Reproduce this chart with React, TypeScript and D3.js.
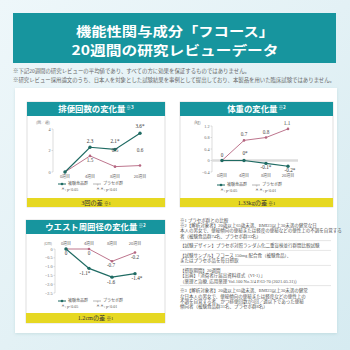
import React from "react";
import * as d3 from "d3";

// ---------- data ----------
const weeks = ["0週目", "4週目", "8週目", "20週目"];

const bowelTest = [0, 2.3, 2.1, 3.6];
const bowelPlacebo = [0, 1.5, 0.5, 0.6];
const bowelTestLabels = ["", "2.3", "2.1*", "3.6*"];
const bowelPlaceboLabels = ["", "1.5", "0.5", "0.6"];
const bowelTicks = [0, 2, 4];

const weightTest = [0, 0, -0.1, -0.2];
const weightPlacebo = [0, 0.7, 0.8, 1.1];
const weightTestLabels = ["0", "0*", "-0.1*", "-0.2*"];
const weightPlaceboLabels = ["", "0.7", "0.8", "1.1"];
const weightTicks = [-0.4, 0, 0.4, 0.8, 1.2];

const waistTest = [0, -1.1, -1.6, -1.4];
const waistPlacebo = [0, 0, -0.7, -0.2];
const waistTestLabels = ["0", "-1.1*", "-1.6", "-1.4*"];
const waistPlaceboLabels = ["", "0", "-0.7", "-0.2"];
const waistTicks = [0, -0.5, -1.0, -1.5, -2.0, -2.5];

const titleLines = ["機能性関与成分「フコース」", "20週間の研究レビューデータ"];
const headNotes = [
  "※下記20週間の研究レビューの平均値であり、すべての方に効果を保証するものではありません。",
  "※研究レビュー採用論文のうち、日本人を対象とした試験結果を事例として提出しており、本製品を用いた臨床試験ではありません。",
];
const legendTest = "被験食品群";
const legendPlacebo = "プラセボ群";
const sig1 = "＊: p<0.05";
const sig2 = "＊＊: p<0.01";

const noteGroups = [
  [
    "※1 プラセボ群との比較",
    "※2【解析対象者】20歳以上65歳未満、BMI23以上30未満の健常な日",
    "本人の男女で、便秘傾向の便秘または軽度の便秘などの便性上の不調を自覚する",
    "者（被験食品群74名、プラセボ群33名）",
  ],
  ["【試験デザイン】プラセボ対照ランダム化二重盲検並行群間比較試験"],
  ["【試験サンプル】フコース 150mg 配合食（被験食品）、", "またはプラセボ品を毎日摂取"],
  [
    "【摂取期間】20週間",
    "【出典】「消費者庁届出資料様式（VI-1）」",
    "（薬理と治療, 応用薬理 Vol.100 No.3/4 P.63-70 (2021.05.31)）",
  ],
  [
    "※3【解析対象者】20歳以上65歳未満、BMI23以上30未満の健常",
    "な日本人の男女で、便秘傾向の便秘または軽度などの便性上の",
    "不調を自覚する者、かつ排便回数が5回／週以下であった便秘",
    "傾向者（被験食品群31名、プラセボ群8名）",
  ],
];

// ---------- style ----------
const TEAL = "#17959e";
const GREEN = "#1f6b63";
const PINK = "#b56580";
const YELLOW = "#e6d822";
const JP = "'Noto Sans CJK JP', sans-serif";
const SERIF = "'Liberation Serif', 'Noto Sans CJK JP', serif";

type LabelPos = [number, number];

type PanelProps = {
  x: number; y: number; w: number; h: number;
  title: string; titleNote: string; bandText: string; bandNote: string;
  bandH: number; headH: number;
  unit: string; unitX: number; unitY: number;
  xRange: [number, number]; yDomain: [number, number]; yRange: [number, number];
  axisX: number; ticks: number[]; tickFmt: (v: number) => string;
  xLabelY: number;
  test: number[]; placebo: number[];
  testLabels: string[]; placeboLabels: string[];
  testPos: LabelPos[]; placeboPos: LabelPos[];
  zeroLine?: boolean;
  legendX: number; legendY: number;
};

function Legend({ x, y }: { x: number; y: number }) {
  return (
    <g fontFamily={JP} fontSize={4} fill="#555">
      <line x1={x} x2={x + 8} y1={y} y2={y} stroke={GREEN} strokeWidth={1} />
      <circle cx={x + 4} cy={y} r={1.3} fill={GREEN} />
      <text x={x + 10} y={y + 1.4}>{legendTest}</text>
      <line x1={x + 35} x2={x + 43} y1={y} y2={y} stroke="#999" strokeWidth={0.7} />
      <text x={x + 38.5} y={y + 1.5} fontSize={4} fill="#999">+</text>
      <text x={x + 45} y={y + 1.4}>{legendPlacebo}</text>
      <text x={x + 3} y={y + 6.5} fontFamily={SERIF}>{sig1}</text>
      <text x={x + 38} y={y + 6.5} fontFamily={SERIF}>{sig2}</text>
    </g>
  );
}

function Panel(p: PanelProps) {
  const xs = d3.scalePoint<string>().domain(weeks).range(p.xRange);
  const ys = d3.scaleLinear().domain(p.yDomain).range(p.yRange);
  const line = d3
    .line<number>()
    .x((_, i) => xs(weeks[i]) as number)
    .y((d) => ys(d));
  const yTop = Math.min(...p.yRange);
  const yBot = Math.max(...p.yRange);
  return (
    <g>
      <rect x={p.x} y={p.y} width={p.w} height={p.h} fill="#fff" stroke="#c9c9c9" strokeWidth={0.6} />
      <rect x={p.x} y={p.y} width={p.w} height={p.headH} fill={TEAL} />
      <text x={p.x + p.w / 2} y={p.y + p.headH / 2 + 3} textAnchor="middle" fill="#fff" fontFamily={JP} fontWeight={700} fontSize={8.4}>
        {p.title}
        <tspan fontSize={4.6} dy={-3}>{" " + p.titleNote}</tspan>
      </text>
      <rect x={p.x} y={p.y + p.h - p.bandH} width={p.w} height={p.bandH} fill={YELLOW} />
      <text x={p.x + p.w / 2} y={p.y + p.h - p.bandH / 2 + 2.2} textAnchor="middle" fill="#333" fontFamily={SERIF} fontSize={6.2}>
        {p.bandText}
        <tspan fontSize={4.6}>{" " + p.bandNote}</tspan>
      </text>

      {/* axis */}
      <text x={p.unitX} y={p.unitY} fontSize={3.8} fill="#777" fontFamily={JP}>{p.unit}</text>
      <line x1={p.axisX} x2={p.axisX} y1={yTop} y2={yBot} stroke="#bbb" strokeWidth={0.5} />
      {p.ticks.map((t) => (
        <g key={t}>
          <line x1={p.axisX - 1.5} x2={p.axisX} y1={ys(t)} y2={ys(t)} stroke="#bbb" strokeWidth={0.5} />
          <text x={p.axisX - 2.5} y={ys(t) + 1.5} textAnchor="end" fontSize={4.2} fill="#666" fontFamily={SERIF}>{p.tickFmt(t)}</text>
        </g>
      ))}
      {weeks.map((w) => (
        <text key={w} x={xs(w)} y={p.xLabelY} textAnchor="middle" fontSize={4} fill="#666" fontFamily={JP}>{w}</text>
      ))}
      {p.zeroLine && (
        <line x1={p.axisX} x2={p.xRange[1] + 10} y1={ys(0)} y2={ys(0)} stroke="#dcdcdc" strokeWidth={2.4} />
      )}

      {/* series */}
      <path d={line(p.placebo) || ""} fill="none" stroke={PINK} strokeWidth={0.9} />
      {p.placebo.map((v, i) => (
        <circle key={"pp" + i} cx={xs(weeks[i])} cy={ys(v)} r={1.3} fill={PINK} />
      ))}
      <path d={line(p.test) || ""} fill="none" stroke={GREEN} strokeWidth={1.2} />
      {p.test.map((v, i) => (
        <circle key={"tp" + i} cx={xs(weeks[i])} cy={ys(v)} r={1.7} fill={GREEN} />
      ))}
      {p.placeboLabels.map((l, i) =>
        l ? (
          <text key={"pl" + i} x={(xs(weeks[i]) as number) + p.placeboPos[i][0]} y={ys(p.placebo[i]) + p.placeboPos[i][1]} textAnchor="middle" fontSize={5.2} fill="#444" fontFamily={SERIF}>{l}</text>
        ) : null
      )}
      {p.testLabels.map((l, i) =>
        l ? (
          <text key={"tl" + i} x={(xs(weeks[i]) as number) + p.testPos[i][0]} y={ys(p.test[i]) + p.testPos[i][1]} textAnchor="middle" fontSize={5.2} fill="#333" fontFamily={SERIF}>{l}</text>
        ) : null
      )}
      <Legend x={p.legendX} y={p.legendY} />
    </g>
  );
}

export default function App() {
  let ny = 222;
  const noteEls: React.ReactNode[] = [];
  noteGroups.forEach((g, gi) => {
    g.forEach((line, li) => {
      noteEls.push(
        <text key={gi + "-" + li} x={180} y={ny} fontSize={4.5} fill="#555" fontFamily={SERIF}>{line}</text>
      );
      ny += 5.2;
    });
    if (gi < noteGroups.length - 1) {
      noteEls.push(<line key={"s" + gi} x1={180} x2={331} y1={ny - 2.2} y2={ny - 2.2} stroke="#ccc" strokeWidth={0.5} />);
      ny += 4.6;
    }
  });

  return (
    <svg width={350} height={350} style={{ position: "absolute", left: 0, top: 0 }}>
      <defs>
        <linearGradient id="bg" x1="0" y1="0" x2="1" y2="1">
          <stop offset="0" stopColor="#eef7fa" />
          <stop offset="0.5" stopColor="#e3f1f5" />
          <stop offset="1" stopColor="#d6ebf1" />
        </linearGradient>
        <filter id="sh" x="-5%" y="-5%" width="110%" height="110%">
          <feDropShadow dx="0" dy="1" stdDeviation="1.5" floodColor="#7aa" floodOpacity="0.25" />
        </filter>
      </defs>
      <rect x={0} y={0} width={350} height={350} fill="url(#bg)" />

      {/* title banner */}
      <rect x={13} y={13} width={323} height={50} fill={TEAL} />
      {titleLines.map((t, i) => (
        <text key={i} x={175} y={35.5 + i * 19} textAnchor="middle" fill="#fff" fontFamily={JP} fontWeight={700} fontSize={13}
          textLength={i === 0 ? 198 : 207} lengthAdjust="spacingAndGlyphs">{t}</text>
      ))}
      {headNotes.map((t, i) => (
        <text key={i} x={13} y={73 + i * 8.5} fontSize={5.2} fill="#666" fontFamily={SERIF}
          textLength={i === 0 ? 237 : 322} lengthAdjust="spacingAndGlyphs">{t}</text>
      ))}

      {/* card */}
      <rect x={15} y={88} width={322} height={245} fill="#fff" filter="url(#sh)" />

      <Panel
        x={27} y={102} w={138} h={105} headH={14} bandH={9}
        title="排便回数の変化量" titleNote="※3" bandText="3回の差" bandNote="※1"
        unit="(回／週)" unitX={36} unitY={124}
        xRange={[65, 140]} yDomain={[0, 4]} yRange={[172, 129]}
        axisX={53} ticks={bowelTicks} tickFmt={(v) => String(v)} xLabelY={178}
        test={bowelTest} placebo={bowelPlacebo}
        testLabels={bowelTestLabels} placeboLabels={bowelPlaceboLabels}
        testPos={[[0, 0], [0, -4], [0, -6], [0, -5]]}
        placeboPos={[[0, 0], [0, 6], [0, -15], [0, -14]]}
        legendX={58} legendY={184}
      />
      <Panel
        x={180} y={102} w={153} h={105} headH={14} bandH={9}
        title="体重の変化量" titleNote="※2" bandText="1.33kgの差" bandNote="※1"
        unit="(kg)" unitX={194} unitY={124}
        xRange={[222, 288]} yDomain={[-0.4, 1.2]} yRange={[172, 126]}
        axisX={212} ticks={weightTicks} tickFmt={(v) => (v === 0 ? "0" : d3.format(".1f")(v))} xLabelY={177}
        test={weightTest} placebo={weightPlacebo}
        testLabels={weightTestLabels} placeboLabels={weightPlaceboLabels}
        testPos={[[0, -4], [1, -6], [0, 6], [2, 6]]}
        placeboPos={[[0, 0], [0, -4], [0, -4], [-1, -4]]}
        zeroLine
        legendX={217} legendY={185}
      />
      <Panel
        x={26} y={220} w={139} h={103} headH={14} bandH={10}
        title="ウエスト周囲径の変化量" titleNote="※2" bandText="1.2cmの差" bandNote="※1"
        unit="(cm)" unitX={44} unitY={245}
        xRange={[66, 135]} yDomain={[-2.5, 0]} yRange={[293, 249]}
        axisX={55} ticks={waistTicks} tickFmt={(v) => (v === 0 ? "0" : d3.format(".1f")(v))} xLabelY={245}
        test={waistTest} placebo={waistPlacebo}
        testLabels={waistTestLabels} placeboLabels={waistPlaceboLabels}
        testPos={[[0, 6], [-4, 7], [-1, 7], [2, 6]]}
        placeboPos={[[0, 0], [0, 6], [-1, 6], [0, 6]]}
        legendX={58} legendY={301}
      />

      {noteEls}
    </svg>
  );
}
